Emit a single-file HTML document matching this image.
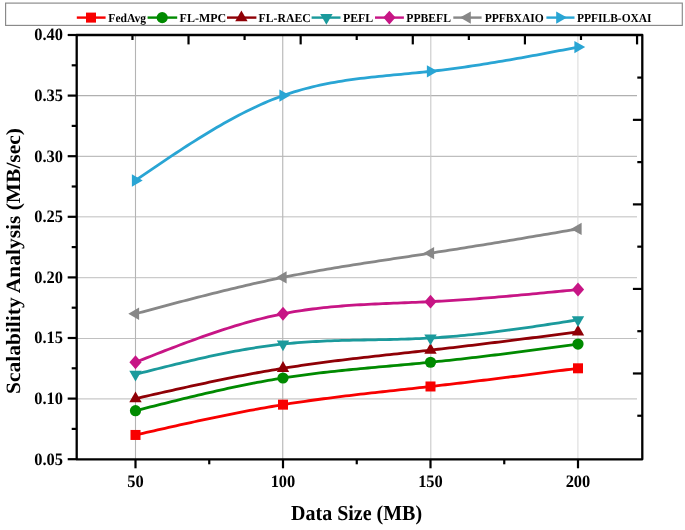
<!DOCTYPE html><html><head><meta charset="utf-8"><style>html,body{margin:0;padding:0;background:#fff;}#w{width:685px;height:530px;overflow:hidden;}svg{display:block;will-change:transform;}text{font-family:"Liberation Serif",serif;font-weight:bold;fill:#000;text-rendering:geometricPrecision;}</style></head><body><div id="w">
<svg width="685" height="530" viewBox="0 0 685 530">
<rect width="685" height="530" fill="#fff"/>
<line x1="76.7" y1="398.80" x2="637" y2="398.80" stroke="#c8c8c8" stroke-width="1.3"/>
<line x1="76.7" y1="338.45" x2="637" y2="338.45" stroke="#c0c0c0" stroke-width="1.15"/>
<line x1="76.7" y1="277.55" x2="637" y2="277.55" stroke="#cbcbcb" stroke-width="1.3"/>
<line x1="76.7" y1="216.80" x2="637" y2="216.80" stroke="#d4d4d4" stroke-width="1.4"/>
<line x1="76.7" y1="156.30" x2="637" y2="156.30" stroke="#bebebe" stroke-width="1.2"/>
<line x1="76.7" y1="95.60" x2="637" y2="95.60" stroke="#b0b0b0" stroke-width="1.1"/>
<line x1="135.50" y1="35.0" x2="135.50" y2="459.3" stroke="#b4b4b4" stroke-width="1.1"/>
<line x1="282.75" y1="35.0" x2="282.75" y2="459.3" stroke="#b4b4b4" stroke-width="1.1"/>
<line x1="430.80" y1="35.0" x2="430.80" y2="459.3" stroke="#c8c8c8" stroke-width="1.1"/>
<line x1="577.90" y1="35.0" x2="577.90" y2="459.3" stroke="#dcdcdc" stroke-width="1.1"/>
<path d="M135.50 434.96 L139.19 434.12 L142.88 433.28 L146.56 432.45 L150.25 431.61 L153.94 430.77 L157.62 429.94 L161.31 429.11 L165.00 428.28 L168.69 427.45 L172.38 426.63 L176.06 425.81 L179.75 424.99 L183.44 424.17 L187.12 423.36 L190.81 422.56 L194.50 421.75 L198.19 420.96 L201.88 420.17 L205.56 419.38 L209.25 418.60 L212.94 417.82 L216.62 417.06 L220.31 416.29 L224.00 415.54 L227.69 414.79 L231.38 414.05 L235.06 413.32 L238.75 412.60 L242.44 411.88 L246.12 411.17 L249.81 410.48 L253.50 409.79 L257.19 409.11 L260.88 408.44 L264.56 407.78 L268.25 407.14 L271.94 406.50 L275.62 405.88 L279.31 405.26 L283.00 404.66 L286.69 404.07 L290.38 403.49 L294.06 402.93 L297.75 402.37 L301.44 401.82 L305.12 401.29 L308.81 400.76 L312.50 400.25 L316.19 399.74 L319.88 399.24 L323.56 398.75 L327.25 398.27 L330.94 397.80 L334.62 397.33 L338.31 396.87 L342.00 396.42 L345.69 395.97 L349.38 395.53 L353.06 395.09 L356.75 394.66 L360.44 394.23 L364.12 393.81 L367.81 393.39 L371.50 392.98 L375.19 392.56 L378.88 392.15 L382.56 391.75 L386.25 391.34 L389.94 390.94 L393.62 390.53 L397.31 390.13 L401.00 389.73 L404.69 389.33 L408.38 388.92 L412.06 388.52 L415.75 388.12 L419.44 387.71 L423.12 387.30 L426.81 386.89 L430.50 386.48 L434.28 386.05 L438.06 385.62 L441.85 385.19 L445.63 384.76 L449.41 384.32 L453.19 383.88 L456.97 383.43 L460.76 382.99 L464.54 382.54 L468.32 382.09 L472.10 381.63 L475.88 381.18 L479.67 380.72 L483.45 380.26 L487.23 379.80 L491.01 379.33 L494.79 378.87 L498.58 378.40 L502.36 377.93 L506.14 377.46 L509.92 376.98 L513.71 376.51 L517.49 376.03 L521.27 375.56 L525.05 375.08 L528.83 374.60 L532.62 374.12 L536.40 373.64 L540.18 373.16 L543.96 372.67 L547.74 372.19 L551.53 371.70 L555.31 371.22 L559.09 370.73 L562.87 370.25 L566.65 369.76 L570.44 369.27 L574.22 368.79 L578.00 368.30" fill="none" stroke="#f80000" stroke-width="2.8" stroke-linejoin="round"/>
<path d="M135.50 410.72 L139.19 409.78 L142.88 408.85 L146.56 407.92 L150.25 406.98 L153.94 406.05 L157.62 405.12 L161.31 404.20 L165.00 403.28 L168.69 402.36 L172.38 401.44 L176.06 400.53 L179.75 399.62 L183.44 398.72 L187.12 397.83 L190.81 396.94 L194.50 396.06 L198.19 395.18 L201.88 394.31 L205.56 393.45 L209.25 392.60 L212.94 391.76 L216.62 390.92 L220.31 390.10 L224.00 389.29 L227.69 388.48 L231.38 387.69 L235.06 386.91 L238.75 386.14 L242.44 385.38 L246.12 384.64 L249.81 383.91 L253.50 383.19 L257.19 382.49 L260.88 381.80 L264.56 381.13 L268.25 380.47 L271.94 379.82 L275.62 379.20 L279.31 378.59 L283.00 378.00 L286.69 377.42 L290.38 376.86 L294.06 376.32 L297.75 375.80 L301.44 375.28 L305.12 374.79 L308.81 374.31 L312.50 373.84 L316.19 373.38 L319.88 372.94 L323.56 372.50 L327.25 372.08 L330.94 371.67 L334.62 371.27 L338.31 370.88 L342.00 370.49 L345.69 370.11 L349.38 369.75 L353.06 369.38 L356.75 369.03 L360.44 368.68 L364.12 368.33 L367.81 367.99 L371.50 367.65 L375.19 367.32 L378.88 366.98 L382.56 366.65 L386.25 366.32 L389.94 365.99 L393.62 365.66 L397.31 365.33 L401.00 365.00 L404.69 364.67 L408.38 364.34 L412.06 364.00 L415.75 363.66 L419.44 363.31 L423.12 362.96 L426.81 362.60 L430.50 362.24 L434.28 361.86 L438.06 361.48 L441.85 361.08 L445.63 360.69 L449.41 360.28 L453.19 359.87 L456.97 359.45 L460.76 359.03 L464.54 358.60 L468.32 358.17 L472.10 357.73 L475.88 357.29 L479.67 356.84 L483.45 356.39 L487.23 355.93 L491.01 355.47 L494.79 355.00 L498.58 354.53 L502.36 354.05 L506.14 353.58 L509.92 353.10 L513.71 352.61 L517.49 352.12 L521.27 351.63 L525.05 351.14 L528.83 350.65 L532.62 350.15 L536.40 349.65 L540.18 349.15 L543.96 348.64 L547.74 348.14 L551.53 347.63 L555.31 347.12 L559.09 346.61 L562.87 346.11 L566.65 345.59 L570.44 345.08 L574.22 344.57 L578.00 344.06" fill="none" stroke="#008a00" stroke-width="2.8" stroke-linejoin="round"/>
<path d="M135.50 398.60 L139.19 397.76 L142.88 396.92 L146.56 396.09 L150.25 395.25 L153.94 394.41 L157.62 393.58 L161.31 392.75 L165.00 391.92 L168.69 391.09 L172.38 390.27 L176.06 389.45 L179.75 388.63 L183.44 387.81 L187.12 387.00 L190.81 386.20 L194.50 385.39 L198.19 384.60 L201.88 383.81 L205.56 383.02 L209.25 382.24 L212.94 381.46 L216.62 380.70 L220.31 379.93 L224.00 379.18 L227.69 378.43 L231.38 377.69 L235.06 376.96 L238.75 376.24 L242.44 375.52 L246.12 374.81 L249.81 374.12 L253.50 373.43 L257.19 372.75 L260.88 372.08 L264.56 371.42 L268.25 370.78 L271.94 370.14 L275.62 369.52 L279.31 368.90 L283.00 368.30 L286.69 367.71 L290.38 367.13 L294.06 366.57 L297.75 366.01 L301.44 365.46 L305.12 364.93 L308.81 364.40 L312.50 363.89 L316.19 363.38 L319.88 362.88 L323.56 362.39 L327.25 361.91 L330.94 361.44 L334.62 360.97 L338.31 360.51 L342.00 360.06 L345.69 359.61 L349.38 359.17 L353.06 358.73 L356.75 358.30 L360.44 357.87 L364.12 357.45 L367.81 357.03 L371.50 356.62 L375.19 356.20 L378.88 355.79 L382.56 355.39 L386.25 354.98 L389.94 354.58 L393.62 354.17 L397.31 353.77 L401.00 353.37 L404.69 352.97 L408.38 352.56 L412.06 352.16 L415.75 351.76 L419.44 351.35 L423.12 350.94 L426.81 350.53 L430.50 350.12 L434.28 349.69 L438.06 349.26 L441.85 348.83 L445.63 348.40 L449.41 347.96 L453.19 347.52 L456.97 347.07 L460.76 346.63 L464.54 346.18 L468.32 345.73 L472.10 345.27 L475.88 344.82 L479.67 344.36 L483.45 343.90 L487.23 343.44 L491.01 342.97 L494.79 342.51 L498.58 342.04 L502.36 341.57 L506.14 341.10 L509.92 340.62 L513.71 340.15 L517.49 339.67 L521.27 339.20 L525.05 338.72 L528.83 338.24 L532.62 337.76 L536.40 337.28 L540.18 336.80 L543.96 336.31 L547.74 335.83 L551.53 335.34 L555.31 334.86 L559.09 334.37 L562.87 333.89 L566.65 333.40 L570.44 332.91 L574.22 332.43 L578.00 331.94" fill="none" stroke="#8f0006" stroke-width="2.8" stroke-linejoin="round"/>
<path d="M135.50 374.36 L139.19 373.42 L142.88 372.48 L146.56 371.55 L150.25 370.61 L153.94 369.68 L157.62 368.75 L161.31 367.82 L165.00 366.90 L168.69 365.99 L172.38 365.08 L176.06 364.18 L179.75 363.28 L183.44 362.40 L187.12 361.52 L190.81 360.65 L194.50 359.80 L198.19 358.95 L201.88 358.12 L205.56 357.29 L209.25 356.48 L212.94 355.69 L216.62 354.91 L220.31 354.14 L224.00 353.39 L227.69 352.65 L231.38 351.94 L235.06 351.24 L238.75 350.55 L242.44 349.89 L246.12 349.25 L249.81 348.63 L253.50 348.03 L257.19 347.45 L260.88 346.89 L264.56 346.36 L268.25 345.85 L271.94 345.36 L275.62 344.90 L279.31 344.47 L283.00 344.06 L286.69 343.68 L290.38 343.33 L294.06 343.00 L297.75 342.69 L301.44 342.41 L305.12 342.15 L308.81 341.91 L312.50 341.68 L316.19 341.48 L319.88 341.30 L323.56 341.12 L327.25 340.97 L330.94 340.83 L334.62 340.70 L338.31 340.58 L342.00 340.47 L345.69 340.37 L349.38 340.28 L353.06 340.20 L356.75 340.12 L360.44 340.05 L364.12 339.98 L367.81 339.91 L371.50 339.84 L375.19 339.78 L378.88 339.71 L382.56 339.64 L386.25 339.56 L389.94 339.49 L393.62 339.40 L397.31 339.31 L401.00 339.21 L404.69 339.10 L408.38 338.99 L412.06 338.86 L415.75 338.72 L419.44 338.56 L423.12 338.39 L426.81 338.20 L430.50 338.00 L434.28 337.77 L438.06 337.53 L441.85 337.26 L445.63 336.98 L449.41 336.68 L453.19 336.37 L456.97 336.04 L460.76 335.69 L464.54 335.33 L468.32 334.95 L472.10 334.56 L475.88 334.15 L479.67 333.74 L483.45 333.30 L487.23 332.86 L491.01 332.41 L494.79 331.94 L498.58 331.46 L502.36 330.98 L506.14 330.48 L509.92 329.97 L513.71 329.46 L517.49 328.93 L521.27 328.40 L525.05 327.86 L528.83 327.32 L532.62 326.76 L536.40 326.21 L540.18 325.64 L543.96 325.07 L547.74 324.50 L551.53 323.93 L555.31 323.35 L559.09 322.76 L562.87 322.18 L566.65 321.59 L570.44 321.00 L574.22 320.41 L578.00 319.82" fill="none" stroke="#1b9a9c" stroke-width="2.8" stroke-linejoin="round"/>
<path d="M135.50 362.24 L139.19 360.79 L142.88 359.33 L146.56 357.88 L150.25 356.43 L153.94 354.99 L157.62 353.55 L161.31 352.11 L165.00 350.68 L168.69 349.26 L172.38 347.85 L176.06 346.44 L179.75 345.05 L183.44 343.67 L187.12 342.29 L190.81 340.94 L194.50 339.59 L198.19 338.26 L201.88 336.94 L205.56 335.65 L209.25 334.36 L212.94 333.10 L216.62 331.86 L220.31 330.63 L224.00 329.43 L227.69 328.25 L231.38 327.09 L235.06 325.95 L238.75 324.84 L242.44 323.76 L246.12 322.70 L249.81 321.67 L253.50 320.66 L257.19 319.69 L260.88 318.74 L264.56 317.83 L268.25 316.95 L271.94 316.10 L275.62 315.29 L279.31 314.51 L283.00 313.76 L286.69 313.05 L290.38 312.38 L294.06 311.74 L297.75 311.13 L301.44 310.55 L305.12 310.01 L308.81 309.50 L312.50 309.01 L316.19 308.55 L319.88 308.12 L323.56 307.71 L327.25 307.32 L330.94 306.96 L334.62 306.62 L338.31 306.30 L342.00 306.00 L345.69 305.72 L349.38 305.46 L353.06 305.21 L356.75 304.97 L360.44 304.75 L364.12 304.54 L367.81 304.35 L371.50 304.16 L375.19 303.98 L378.88 303.81 L382.56 303.65 L386.25 303.49 L389.94 303.34 L393.62 303.19 L397.31 303.05 L401.00 302.90 L404.69 302.75 L408.38 302.61 L412.06 302.46 L415.75 302.31 L419.44 302.15 L423.12 301.99 L426.81 301.82 L430.50 301.64 L434.28 301.45 L438.06 301.25 L441.85 301.04 L445.63 300.82 L449.41 300.59 L453.19 300.36 L456.97 300.11 L460.76 299.86 L464.54 299.60 L468.32 299.34 L472.10 299.06 L475.88 298.78 L479.67 298.50 L483.45 298.20 L487.23 297.91 L491.01 297.60 L494.79 297.29 L498.58 296.97 L502.36 296.65 L506.14 296.33 L509.92 295.99 L513.71 295.66 L517.49 295.32 L521.27 294.98 L525.05 294.63 L528.83 294.28 L532.62 293.92 L536.40 293.57 L540.18 293.21 L543.96 292.85 L547.74 292.48 L551.53 292.12 L555.31 291.75 L559.09 291.38 L562.87 291.01 L566.65 290.64 L570.44 290.27 L574.22 289.89 L578.00 289.52" fill="none" stroke="#c71585" stroke-width="2.8" stroke-linejoin="round"/>
<path d="M135.50 313.76 L139.19 312.77 L142.88 311.78 L146.56 310.79 L150.25 309.80 L153.94 308.82 L157.62 307.83 L161.31 306.85 L165.00 305.87 L168.69 304.89 L172.38 303.91 L176.06 302.94 L179.75 301.97 L183.44 301.00 L187.12 300.04 L190.81 299.08 L194.50 298.13 L198.19 297.18 L201.88 296.24 L205.56 295.30 L209.25 294.37 L212.94 293.44 L216.62 292.52 L220.31 291.61 L224.00 290.70 L227.69 289.80 L231.38 288.91 L235.06 288.03 L238.75 287.15 L242.44 286.29 L246.12 285.43 L249.81 284.58 L253.50 283.74 L257.19 282.91 L260.88 282.09 L264.56 281.28 L268.25 280.48 L271.94 279.70 L275.62 278.92 L279.31 278.15 L283.00 277.40 L286.69 276.66 L290.38 275.93 L294.06 275.21 L297.75 274.50 L301.44 273.81 L305.12 273.12 L308.81 272.44 L312.50 271.78 L316.19 271.12 L319.88 270.47 L323.56 269.83 L327.25 269.19 L330.94 268.57 L334.62 267.95 L338.31 267.34 L342.00 266.73 L345.69 266.14 L349.38 265.54 L353.06 264.95 L356.75 264.37 L360.44 263.79 L364.12 263.22 L367.81 262.65 L371.50 262.08 L375.19 261.52 L378.88 260.95 L382.56 260.40 L386.25 259.84 L389.94 259.28 L393.62 258.73 L397.31 258.17 L401.00 257.62 L404.69 257.07 L408.38 256.51 L412.06 255.96 L415.75 255.40 L419.44 254.84 L423.12 254.29 L426.81 253.72 L430.50 253.16 L434.28 252.58 L438.06 251.99 L441.85 251.41 L445.63 250.81 L449.41 250.22 L453.19 249.62 L456.97 249.03 L460.76 248.42 L464.54 247.82 L468.32 247.21 L472.10 246.60 L475.88 245.99 L479.67 245.38 L483.45 244.76 L487.23 244.15 L491.01 243.53 L494.79 242.90 L498.58 242.28 L502.36 241.66 L506.14 241.03 L509.92 240.40 L513.71 239.77 L517.49 239.14 L521.27 238.51 L525.05 237.87 L528.83 237.24 L532.62 236.60 L536.40 235.97 L540.18 235.33 L543.96 234.69 L547.74 234.05 L551.53 233.41 L555.31 232.77 L559.09 232.13 L562.87 231.49 L566.65 230.85 L570.44 230.20 L574.22 229.56 L578.00 228.92" fill="none" stroke="#878787" stroke-width="2.8" stroke-linejoin="round"/>
<path d="M135.50 180.44 L139.19 177.92 L142.88 175.39 L146.56 172.87 L150.25 170.36 L153.94 167.85 L157.62 165.34 L161.31 162.85 L165.00 160.37 L168.69 157.90 L172.38 155.44 L176.06 153.00 L179.75 150.58 L183.44 148.17 L187.12 145.78 L190.81 143.42 L194.50 141.07 L198.19 138.76 L201.88 136.46 L205.56 134.20 L209.25 131.96 L212.94 129.75 L216.62 127.58 L220.31 125.44 L224.00 123.33 L227.69 121.26 L231.38 119.23 L235.06 117.23 L238.75 115.28 L242.44 113.37 L246.12 111.51 L249.81 109.69 L253.50 107.91 L257.19 106.19 L260.88 104.51 L264.56 102.89 L268.25 101.32 L271.94 99.80 L275.62 98.35 L279.31 96.94 L283.00 95.60 L286.69 94.32 L290.38 93.09 L294.06 91.93 L297.75 90.81 L301.44 89.75 L305.12 88.74 L308.81 87.79 L312.50 86.87 L316.19 86.01 L319.88 85.18 L323.56 84.40 L327.25 83.66 L330.94 82.96 L334.62 82.29 L338.31 81.66 L342.00 81.06 L345.69 80.49 L349.38 79.94 L353.06 79.43 L356.75 78.94 L360.44 78.47 L364.12 78.02 L367.81 77.59 L371.50 77.18 L375.19 76.78 L378.88 76.40 L382.56 76.03 L386.25 75.66 L389.94 75.31 L393.62 74.96 L397.31 74.61 L401.00 74.27 L404.69 73.93 L408.38 73.58 L412.06 73.23 L415.75 72.88 L419.44 72.51 L423.12 72.14 L426.81 71.76 L430.50 71.36 L434.28 70.94 L438.06 70.50 L441.85 70.05 L445.63 69.58 L449.41 69.10 L453.19 68.60 L456.97 68.09 L460.76 67.57 L464.54 67.03 L468.32 66.49 L472.10 65.93 L475.88 65.36 L479.67 64.78 L483.45 64.18 L487.23 63.58 L491.01 62.97 L494.79 62.35 L498.58 61.72 L502.36 61.08 L506.14 60.43 L509.92 59.78 L513.71 59.11 L517.49 58.44 L521.27 57.77 L525.05 57.08 L528.83 56.40 L532.62 55.70 L536.40 55.01 L540.18 54.30 L543.96 53.60 L547.74 52.89 L551.53 52.17 L555.31 51.46 L559.09 50.74 L562.87 50.02 L566.65 49.29 L570.44 48.57 L574.22 47.85 L578.00 47.12" fill="none" stroke="#29a5d4" stroke-width="2.8" stroke-linejoin="round"/>
<rect x="130.50" y="429.96" width="10.00" height="10.00" fill="#f80000"/>
<rect x="278.00" y="399.66" width="10.00" height="10.00" fill="#f80000"/>
<rect x="425.50" y="381.48" width="10.00" height="10.00" fill="#f80000"/>
<rect x="573.00" y="363.30" width="10.00" height="10.00" fill="#f80000"/>
<circle cx="135.50" cy="410.72" r="5.60" fill="#008a00"/>
<circle cx="283.00" cy="378.00" r="5.60" fill="#008a00"/>
<circle cx="430.50" cy="362.24" r="5.60" fill="#008a00"/>
<circle cx="578.00" cy="344.06" r="5.60" fill="#008a00"/>
<path d="M135.50 391.40L141.70 402.20L129.30 402.20Z" fill="#8f0006"/>
<path d="M283.00 361.10L289.20 371.90L276.80 371.90Z" fill="#8f0006"/>
<path d="M430.50 342.92L436.70 353.72L424.30 353.72Z" fill="#8f0006"/>
<path d="M578.00 324.74L584.20 335.54L571.80 335.54Z" fill="#8f0006"/>
<path d="M135.50 381.56L141.70 370.76L129.30 370.76Z" fill="#1b9a9c"/>
<path d="M283.00 351.26L289.20 340.46L276.80 340.46Z" fill="#1b9a9c"/>
<path d="M430.50 345.20L436.70 334.40L424.30 334.40Z" fill="#1b9a9c"/>
<path d="M578.00 327.02L584.20 316.22L571.80 316.22Z" fill="#1b9a9c"/>
<path d="M135.50 355.34L141.60 362.24L135.50 369.14L129.40 362.24Z" fill="#c71585"/>
<path d="M283.00 306.86L289.10 313.76L283.00 320.66L276.90 313.76Z" fill="#c71585"/>
<path d="M430.50 294.74L436.60 301.64L430.50 308.54L424.40 301.64Z" fill="#c71585"/>
<path d="M578.00 282.62L584.10 289.52L578.00 296.42L571.90 289.52Z" fill="#c71585"/>
<path d="M128.30 313.76L139.10 307.56L139.10 319.96Z" fill="#878787"/>
<path d="M275.80 277.40L286.60 271.20L286.60 283.60Z" fill="#878787"/>
<path d="M423.30 253.16L434.10 246.96L434.10 259.36Z" fill="#878787"/>
<path d="M570.80 228.92L581.60 222.72L581.60 235.12Z" fill="#878787"/>
<path d="M142.70 180.44L131.90 174.24L131.90 186.64Z" fill="#29a5d4"/>
<path d="M290.20 95.60L279.40 89.40L279.40 101.80Z" fill="#29a5d4"/>
<path d="M437.70 71.36L426.90 65.16L426.90 77.56Z" fill="#29a5d4"/>
<path d="M585.20 47.12L574.40 40.92L574.40 53.32Z" fill="#29a5d4"/>
<rect x="76.70" y="35.00" width="565.60" height="424.30" fill="none" stroke="#000" stroke-width="2.3" stroke-linejoin="round"/>
<line x1="67.7" y1="459.20" x2="76.7" y2="459.20" stroke="#000" stroke-width="2.2"/>
<line x1="67.7" y1="398.60" x2="76.7" y2="398.60" stroke="#000" stroke-width="2.2"/>
<line x1="67.7" y1="338.00" x2="76.7" y2="338.00" stroke="#000" stroke-width="2.2"/>
<line x1="67.7" y1="277.40" x2="76.7" y2="277.40" stroke="#000" stroke-width="2.2"/>
<line x1="67.7" y1="216.80" x2="76.7" y2="216.80" stroke="#000" stroke-width="2.2"/>
<line x1="67.7" y1="156.20" x2="76.7" y2="156.20" stroke="#000" stroke-width="2.2"/>
<line x1="67.7" y1="95.60" x2="76.7" y2="95.60" stroke="#000" stroke-width="2.2"/>
<line x1="67.7" y1="35.00" x2="76.7" y2="35.00" stroke="#000" stroke-width="2.2"/>
<line x1="71.7" y1="428.90" x2="76.7" y2="428.90" stroke="#000" stroke-width="2.2"/>
<line x1="71.7" y1="368.30" x2="76.7" y2="368.30" stroke="#000" stroke-width="2.2"/>
<line x1="71.7" y1="307.70" x2="76.7" y2="307.70" stroke="#000" stroke-width="2.2"/>
<line x1="71.7" y1="247.10" x2="76.7" y2="247.10" stroke="#000" stroke-width="2.2"/>
<line x1="71.7" y1="186.50" x2="76.7" y2="186.50" stroke="#000" stroke-width="2.2"/>
<line x1="71.7" y1="125.90" x2="76.7" y2="125.90" stroke="#000" stroke-width="2.2"/>
<line x1="71.7" y1="65.30" x2="76.7" y2="65.30" stroke="#000" stroke-width="2.2"/>
<line x1="135.50" y1="459.3" x2="135.50" y2="468.3" stroke="#000" stroke-width="2.2"/>
<line x1="283.00" y1="459.3" x2="283.00" y2="468.3" stroke="#000" stroke-width="2.2"/>
<line x1="430.50" y1="459.3" x2="430.50" y2="468.3" stroke="#000" stroke-width="2.2"/>
<line x1="578.00" y1="459.3" x2="578.00" y2="468.3" stroke="#000" stroke-width="2.2"/>
<line x1="209.25" y1="459.3" x2="209.25" y2="464.3" stroke="#000" stroke-width="2.2"/>
<line x1="356.75" y1="459.3" x2="356.75" y2="464.3" stroke="#000" stroke-width="2.2"/>
<line x1="504.25" y1="459.3" x2="504.25" y2="464.3" stroke="#000" stroke-width="2.2"/>
<line x1="132.46" y1="35.0" x2="132.46" y2="40.0" stroke="#000" stroke-width="2.2"/>
<line x1="188.52" y1="35.0" x2="188.52" y2="44.4" stroke="#000" stroke-width="2.2"/>
<line x1="244.59" y1="35.0" x2="244.59" y2="40.0" stroke="#000" stroke-width="2.2"/>
<line x1="300.66" y1="35.0" x2="300.66" y2="44.4" stroke="#000" stroke-width="2.2"/>
<line x1="356.72" y1="35.0" x2="356.72" y2="40.0" stroke="#000" stroke-width="2.2"/>
<line x1="412.79" y1="35.0" x2="412.79" y2="44.4" stroke="#000" stroke-width="2.2"/>
<line x1="468.86" y1="35.0" x2="468.86" y2="40.0" stroke="#000" stroke-width="2.2"/>
<line x1="524.93" y1="35.0" x2="524.93" y2="44.4" stroke="#000" stroke-width="2.2"/>
<line x1="580.99" y1="35.0" x2="580.99" y2="40.0" stroke="#000" stroke-width="2.2"/>
<line x1="637.06" y1="35.0" x2="637.06" y2="44.4" stroke="#000" stroke-width="2.2"/>
<line x1="637.3" y1="77.58" x2="642.3" y2="77.58" stroke="#000" stroke-width="2.2"/>
<line x1="632.9" y1="119.85" x2="642.3" y2="119.85" stroke="#000" stroke-width="2.2"/>
<line x1="637.3" y1="162.12" x2="642.3" y2="162.12" stroke="#000" stroke-width="2.2"/>
<line x1="632.9" y1="204.39" x2="642.3" y2="204.39" stroke="#000" stroke-width="2.2"/>
<line x1="637.3" y1="246.66" x2="642.3" y2="246.66" stroke="#000" stroke-width="2.2"/>
<line x1="632.9" y1="288.93" x2="642.3" y2="288.93" stroke="#000" stroke-width="2.2"/>
<line x1="637.3" y1="331.20" x2="642.3" y2="331.20" stroke="#000" stroke-width="2.2"/>
<line x1="632.9" y1="373.47" x2="642.3" y2="373.47" stroke="#000" stroke-width="2.2"/>
<line x1="637.3" y1="415.74" x2="642.3" y2="415.74" stroke="#000" stroke-width="2.2"/>
<text x="63" y="464.50" font-size="17.4" text-anchor="end" textLength="28.78" lengthAdjust="spacingAndGlyphs">0.05</text>
<text x="63" y="403.90" font-size="17.4" text-anchor="end" textLength="28.78" lengthAdjust="spacingAndGlyphs">0.10</text>
<text x="63" y="343.30" font-size="17.4" text-anchor="end" textLength="28.78" lengthAdjust="spacingAndGlyphs">0.15</text>
<text x="63" y="282.70" font-size="17.4" text-anchor="end" textLength="28.78" lengthAdjust="spacingAndGlyphs">0.20</text>
<text x="63" y="222.10" font-size="17.4" text-anchor="end" textLength="28.78" lengthAdjust="spacingAndGlyphs">0.25</text>
<text x="63" y="161.50" font-size="17.4" text-anchor="end" textLength="28.78" lengthAdjust="spacingAndGlyphs">0.30</text>
<text x="63" y="100.90" font-size="17.4" text-anchor="end" textLength="28.78" lengthAdjust="spacingAndGlyphs">0.35</text>
<text x="63" y="40.30" font-size="17.4" text-anchor="end" textLength="28.78" lengthAdjust="spacingAndGlyphs">0.40</text>
<text x="135.50" y="486.9" font-size="17.4" text-anchor="middle" textLength="16.44" lengthAdjust="spacingAndGlyphs">50</text>
<text x="283.00" y="486.9" font-size="17.4" text-anchor="middle" textLength="24.66" lengthAdjust="spacingAndGlyphs">100</text>
<text x="430.50" y="486.9" font-size="17.4" text-anchor="middle" textLength="24.66" lengthAdjust="spacingAndGlyphs">150</text>
<text x="578.00" y="486.9" font-size="17.4" text-anchor="middle" textLength="24.66" lengthAdjust="spacingAndGlyphs">200</text>
<text x="356.6" y="520" font-size="21.3" text-anchor="middle" textLength="131" lengthAdjust="spacingAndGlyphs">Data Size (MB)</text>
<text transform="translate(20.35,261.0) rotate(-90) scale(1,0.945)" x="0" y="0" font-size="21.45" text-anchor="middle" textLength="265.8" lengthAdjust="spacingAndGlyphs">Scalability Analysis (MB/sec)</text>
<rect x="5.6" y="3.1" width="676.7" height="22.3" fill="#fff" stroke="#888" stroke-width="1.15"/>
<line x1="76.8" y1="17.6" x2="105.6" y2="17.6" stroke="#f80000" stroke-width="2.4"/>
<rect x="86.00" y="12.60" width="10.00" height="10.00" fill="#f80000"/>
<text x="108.33" y="22.1" font-size="12.2" textLength="37.68" lengthAdjust="spacingAndGlyphs">FedAvg</text>
<line x1="147.6" y1="17.6" x2="177.2" y2="17.6" stroke="#008a00" stroke-width="2.4"/>
<circle cx="162.20" cy="17.60" r="5.60" fill="#008a00"/>
<text x="179.62" y="22.1" font-size="12.2" textLength="46.52" lengthAdjust="spacingAndGlyphs">FL-MPC</text>
<line x1="227" y1="17.6" x2="256.4" y2="17.6" stroke="#8f0006" stroke-width="2.4"/>
<path d="M241.40 10.40L247.60 21.20L235.20 21.20Z" fill="#8f0006"/>
<text x="258.62" y="22.1" font-size="12.2" textLength="52.11" lengthAdjust="spacingAndGlyphs">FL-RAEC</text>
<line x1="311.6" y1="17.6" x2="340.5" y2="17.6" stroke="#1b9a9c" stroke-width="2.4"/>
<path d="M326.40 24.80L332.60 14.00L320.20 14.00Z" fill="#1b9a9c"/>
<text x="342.92" y="22.1" font-size="12.2" textLength="30.27" lengthAdjust="spacingAndGlyphs">PEFL</text>
<line x1="375" y1="17.6" x2="403.9" y2="17.6" stroke="#c71585" stroke-width="2.4"/>
<path d="M389.40 10.70L395.50 17.60L389.40 24.50L383.30 17.60Z" fill="#c71585"/>
<text x="406.33" y="22.1" font-size="12.2" textLength="44.58" lengthAdjust="spacingAndGlyphs">PPBEFL</text>
<line x1="453.3" y1="17.6" x2="481.6" y2="17.6" stroke="#878787" stroke-width="2.4"/>
<path d="M460.00 17.60L470.80 11.40L470.80 23.80Z" fill="#878787"/>
<text x="484.63" y="22.1" font-size="12.2" textLength="59.11" lengthAdjust="spacingAndGlyphs">PPFBXAIO</text>
<line x1="546.4" y1="17.6" x2="574.5" y2="17.6" stroke="#29a5d4" stroke-width="2.4"/>
<path d="M567.00 17.60L556.20 11.40L556.20 23.80Z" fill="#29a5d4"/>
<text x="577.03" y="22.1" font-size="12.2" textLength="74.57" lengthAdjust="spacingAndGlyphs">PPFILB-OXAI</text>
</svg></div></body></html>
